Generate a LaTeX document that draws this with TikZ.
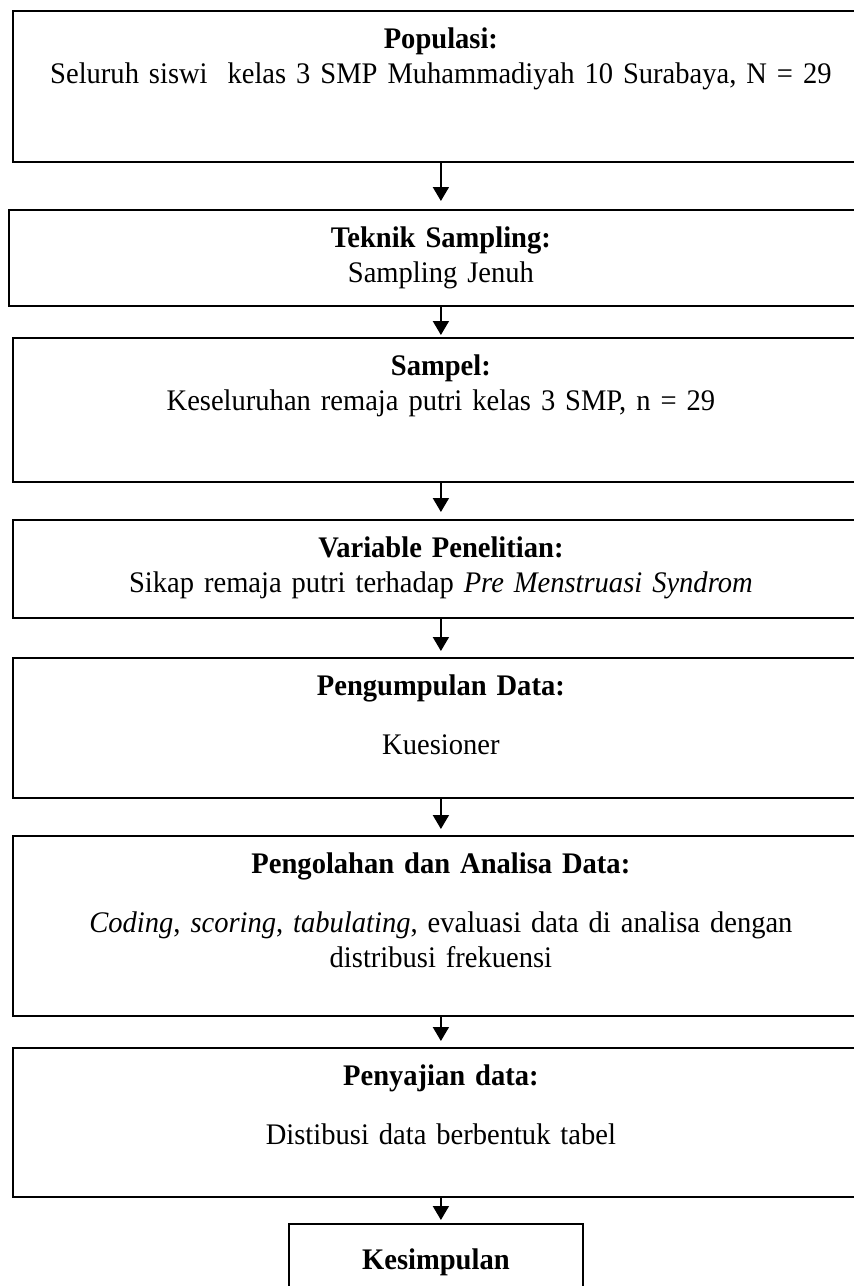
\documentclass[tikz,border=0pt]{standalone}
\usepackage{fontspec}
\setmainfont{Liberation Serif}[FakeStretch=0.955]
\usetikzlibrary{arrows.meta}

\begin{document}
\begin{tikzpicture}[x=1bp,y=-1bp,
  font=\fontsize{30}{35}\selectfont,
  kotak/.style={draw, line width=1.8bp, align=center, inner sep=0pt,
    text height=38bp, anchor=north west},
  panah/.style={line width=1.8bp, -{Triangle[length=14bp,width=16bp]}}]

\useasboundingbox (0,0) rectangle (854,1286);

\def\lebar{856bp}

\node[kotak, text width=\lebar, text depth=113bp] (pop) at (12,10)
  {\textbf{Populasi:}\\Seluruh siswi~ kelas 3 SMP Muhammadiyah 10 Surabaya, N = 29};
\node[kotak, text width=864bp, text depth=58bp] (tek) at (8,209)
  {\textbf{Teknik Sampling:}\\Sampling Jenuh};
\node[kotak, text width=\lebar, text depth=106bp] (sam) at (12,337)
  {\textbf{Sampel:}\\Keseluruhan remaja putri kelas 3 SMP, n = 29};
\node[kotak, text width=\lebar, text depth=60bp] (var) at (12,519)
  {\textbf{Variable Penelitian:}\\Sikap remaja putri terhadap \textit{Pre Menstruasi Syndrom}};
\node[kotak, text width=\lebar, text depth=102bp] (kum) at (12,657)
  {\textbf{Pengumpulan Data:}\\[24bp]Kuesioner};
\node[kotak, text width=\lebar, text depth=142bp] (olah) at (12,835)
  {\textbf{Pengolahan dan Analisa Data:}\\[24bp]\textit{Coding}, \textit{scoring}, \textit{tabulating}, evaluasi data di analisa dengan\\distribusi frekuensi};
\node[kotak, text width=\lebar, text depth=111bp] (saji) at (12,1047)
  {\textbf{Penyajian data:}\\[24bp]Distibusi data berbentuk tabel};
\node[kotak, text width=294bp, text height=46bp, text depth=60bp] (kes) at (288,1223)
  {\textbf{Kesimpulan}};

%\draw [help lines] grid (854,1286);

\draw[panah, shorten >=8bp] (pop.south) -- (pop.south |- tek.north);
\draw[panah, shorten >=2bp] (tek.south) -- (tek.south |- sam.north);
\draw[panah, shorten >=7bp] (sam.south) -- (sam.south |- var.north);
\draw[panah, shorten >=6bp] (var.south) -- (var.south |- kum.north);
\draw[panah, shorten >=6bp] (kum.south) -- (kum.south |- olah.north);
\draw[panah, shorten >=6bp] (olah.south) -- (olah.south |- saji.north);
\draw[panah, shorten >=3bp] (saji.south) -- (saji.south |- kes.north);

\end{tikzpicture}
\end{document}
